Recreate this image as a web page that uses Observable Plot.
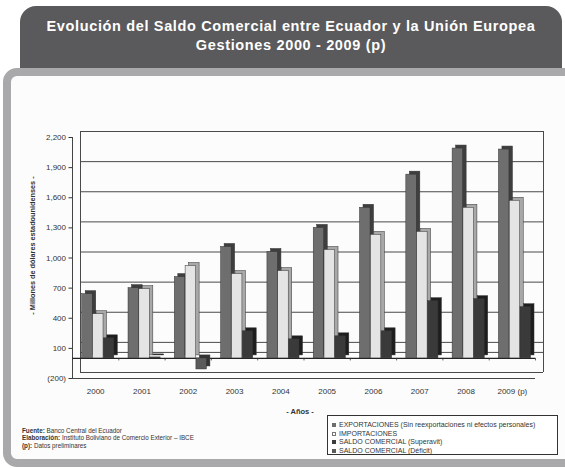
<!DOCTYPE html>
<html>
<head>
<meta charset="utf-8">
<script src="https://cdn.jsdelivr.net/npm/d3@7"></script>
<script src="https://cdn.jsdelivr.net/npm/@observablehq/plot@0.6"></script>
<style>
  html, body { margin: 0; padding: 0; background: #fff; }
  #wrap { position: relative; width: 565px; height: 468px; overflow: hidden; background: #fff;
          font-family: "Liberation Sans", Arial, sans-serif; color: #333; }
  #frame { position: absolute; left: 3px; top: 68px; width: 600px; height: 399px; box-sizing: border-box;
           border: 8px solid #a9a9ab; border-radius: 14px; background: #fcfcfc; }
  #header { position: absolute; left: 20px; top: 6px; width: 542px; height: 62px; background: #5a5a5c;
            border-radius: 16px 16px 0 0; color: #fff; text-align: center; font-size: 14.5px;
            letter-spacing: 0.65px; font-weight: bold; line-height: 19px; box-sizing: border-box; padding-top: 11px; }
  #chart { position: absolute; left: 0; top: 120px; }
  #ylab { position: absolute; left: -68px; top: 241px; width: 200px; text-align: center; font-size: 7.3px;
          font-weight: bold; transform: rotate(-90deg); }
  #xlab { position: absolute; left: 250px; top: 407px; width: 100px; text-align: center; font-size: 7.5px; font-weight: bold; }
  #notes { position: absolute; left: 22px; top: 427px; font-size: 6.3px; line-height: 7.4px; color: #333; }
  #legend { position: absolute; left: 327px; top: 415px; width: 231px; height: 40px; box-sizing: border-box;
            border: 1px solid #333; background: #fff; padding: 5px 0 0 4px; font-size: 7px; line-height: 8.5px; }
  .sw { display: inline-block; width: 4px; height: 4px; margin-right: 3px; vertical-align: 0px; box-sizing: border-box; }
</style>
</head>
<body>
<div id="wrap">
  <div id="frame"></div>
  <div id="header">Evolución del Saldo Comercial entre Ecuador y la Unión Europea<br>Gestiones 2000 - 2009 (p)</div>
  <div id="chart"></div>
  <div id="ylab">- Millones de dólares estadounidenses -</div>
  <div id="xlab">- Años -</div>
  <div id="notes"><b>Fuente:</b> Banco Central del Ecuador<br><b>Elaboración:</b> Instituto Boliviano de Comercio Exterior – IBCE<br><b>(p):</b> Datos preliminares</div>
  <div id="legend"></div>
</div>
<script>
// ---- data ----
const years = [2000, 2001, 2002, 2003, 2004, 2005, 2006, 2007, 2008, 2009];
const yearLabels = ["2000", "2001", "2002", "2003", "2004", "2005", "2006", "2007", "2008", "2009 (p)"];
const exportaciones = [640, 700, 810, 1110, 1060, 1300, 1500, 1830, 2090, 2080];
const importaciones = [440, 690, 920, 840, 870, 1080, 1230, 1260, 1500, 1570];
const saldo = [200, 10, -110, 270, 190, 220, 270, 570, 590, 510];
const yTicks = [-200, 100, 400, 700, 1000, 1300, 1600, 1900, 2200];
const seriesNames = [
  "EXPORTACIONES (Sin reexportaciones ni efectos personales)",
  "IMPORTACIONES",
  "SALDO COMERCIAL (Superavit)",
  "SALDO COMERCIAL (Déficit)"
];
const seriesColors = ["#6e6e6e", "#e4e4e4", "#3a3a3a", "#5a5a5a"];
const sideColors = ["#3e3e3e", "#a8a8a8", "#1e1e1e", "#333333"];

// ---- chart ----
const rows = years.map((y, i) => ({year: y, exp: exportaciones[i], imp: importaciones[i], sal: saldo[i]}));
const W = 565, H = 300, mL = 72, mR = 30, mT = 17, mB = 42;
const bw = (W - mL - mR) / years.length;
const xMin = years[0] - 0.5, xMax = years[years.length - 1] + 0.5;
const yMin = yTicks[0], yMax = yTicks[yTicks.length - 1];
const back = {dx: 8, dy: -6};
const depth = {dx: 3.5, dy: -3};
const barW = 0.227; // fraction of band
const lefts = [0.21, 0.443, 0.676];

function bar3d(key, k, color, side, filter) {
  const insetLeft = bw * lefts[k], insetRight = bw * (1 - lefts[k] - barW);
  const common = {
    x1: d => d.year - 0.5, x2: d => d.year + 0.5,
    y1: () => 0, y2: d => d[key],
    insetLeft, insetRight, stroke: "#333", strokeWidth: 0.5
  };
  if (filter) common.filter = filter;
  return [
    Plot.rect(rows, {...common, ...depth, fill: side}),
    Plot.rect(rows, {...common, fill: color})
  ];
}

const boundaries = years.map(y => y - 0.5).concat([xMax]);

const chart = Plot.plot({
  width: W, height: H,
  marginLeft: mL, marginRight: mR, marginTop: mT, marginBottom: mB,
  style: {fontFamily: "'Liberation Sans', Arial, sans-serif", fontSize: "8px", color: "#333", background: "transparent", overflow: "visible"},
  x: {type: "linear", domain: [xMin, xMax], axis: null},
  y: {domain: [yMin, yMax], axis: null, label: null},
  marks: [
    // back wall gridlines and edges
    Plot.ruleY(yTicks.concat([0]), {x1: () => xMin, x2: () => xMax, ...back, stroke: "#4a4a4a", strokeWidth: 1}),
    Plot.ruleX([xMin, xMax], {y1: () => yMin, y2: () => yMax, ...back, stroke: "#4a4a4a", strokeWidth: 1}),
    // floor front edge
    Plot.ruleY([yMin], {x1: () => xMin, x2: () => xMax, stroke: "#444", strokeWidth: 1}),
    // front y axis line
    Plot.ruleX([xMin], {y1: () => yMin, y2: () => yMax, stroke: "#444", strokeWidth: 1}),
    // zero line and category ticks
    Plot.ruleY([0], {x1: () => xMin, x2: () => xMax, stroke: "#222", strokeWidth: 1.2}),
    Plot.ruleX(boundaries, {y1: () => 0, y2: () => -25, stroke: "#333", strokeWidth: 0.8}),
    // bars
    ...bar3d("exp", 0, seriesColors[0], sideColors[0]),
    ...bar3d("imp", 1, seriesColors[1], sideColors[1]),
    ...bar3d("sal", 2, seriesColors[2], sideColors[2], d => d.sal >= 0),
    ...bar3d("sal", 2, seriesColors[3], sideColors[3], d => d.sal < 0),
    // axes
    Plot.axisY(yTicks, {anchor: "left", tickSize: 3.5, tickPadding: 3, fill: "#333",
      tickFormat: d => d < 0 ? "(" + d3.format(",")(-d) + ")" : d3.format(",")(d), label: null}),
    Plot.axisX(years, {anchor: "bottom", tickSize: 0, tickPadding: 10, fill: "#333",
      tickFormat: d => yearLabels[years.indexOf(d)], label: null})
  ]
});
document.getElementById("chart").appendChild(chart);

// ---- legend ----
const legend = document.getElementById("legend");
seriesNames.forEach((name, i) => {
  const row = document.createElement("div");
  const sw = document.createElement("span");
  sw.className = "sw";
  sw.style.background = i === 1 ? "#fff" : seriesColors[i];
  sw.style.border = "0.6px solid " + (i === 1 ? "#777" : seriesColors[i]);
  row.appendChild(sw);
  row.appendChild(document.createTextNode(name));
  legend.appendChild(row);
});
</script>
</body>
</html>
